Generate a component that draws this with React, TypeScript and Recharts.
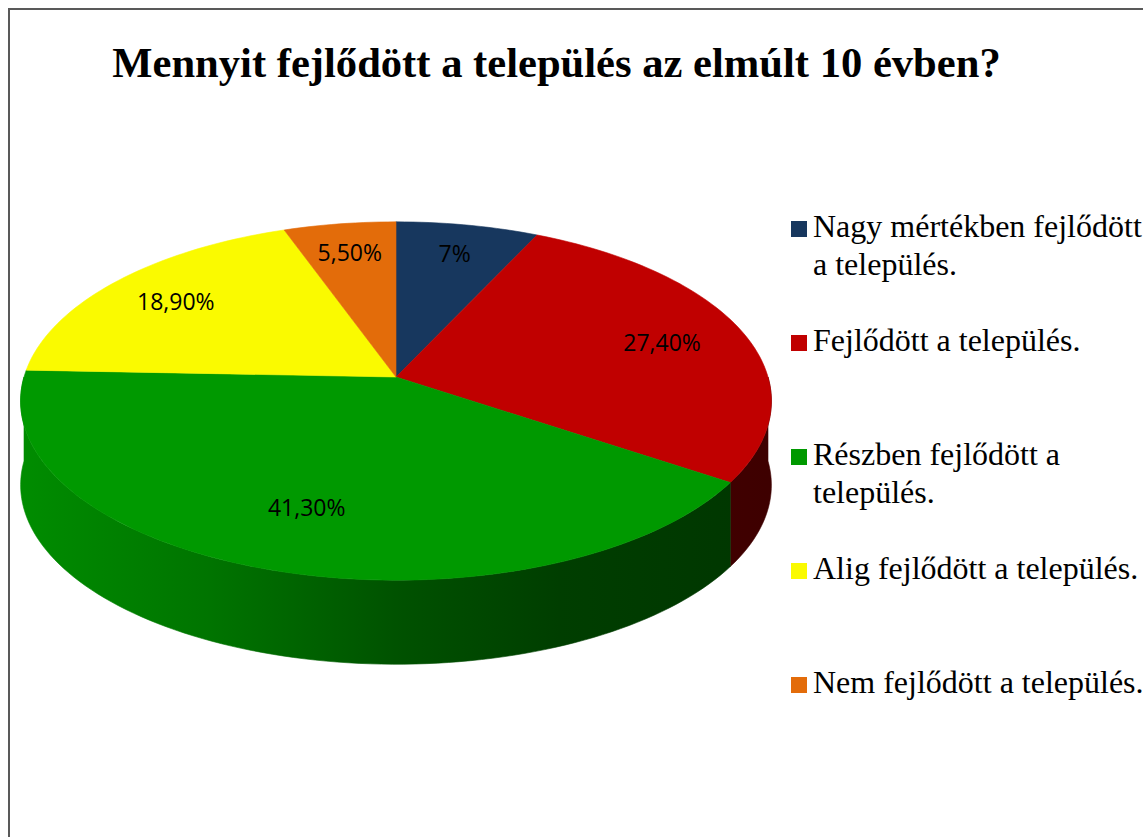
import React from "react";
import { PieChart, Pie, Cell, Legend } from "recharts";

const title = "Mennyit fejlődött a település az elmúlt 10 évben?";
const categories = [
  "Nagy mértékben fejlődött a település.",
  "Fejlődött a település.",
  "Részben fejlődött a település.",
  "Alig fejlődött a település.",
  "Nem fejlődött a település.",
];
const shares = [7, 27.4, 41.3, 18.9, 5.5];
const shareLabels = ["7%", "27,40%", "41,30%", "18,90%", "5,50%"];

const COLORS = ["#17375E", "#C00000", "#009900", "#FAFA00", "#E36C0A"];
// side wall shading, left to right
const WALL_STOPS: [number, string][][] = [
  [[0, "#1c3658"], [1, "#0a1628"]],
  [[0, "#700000"], [0.6, "#4c0000"], [1, "#3e0000"]],
  [[0, "#008c00"], [0.25, "#007400"], [0.5, "#005200"], [0.72, "#003e00"], [1, "#003600"]],
  [[0, "#b0b000"], [1, "#606000"]],
  [[0, "#a04a06"], [1, "#5a2a04"]],
];

const data = categories.map((name, i) => ({ name, value: shares[i], idx: i }));

// fake 3D: tilt, perspective and thickness relative to the radius
const TILT = 0.473;
const PERSP = 0.134;
const DEPTH = 0.226;

const project = (cx: number, cy: number, r: number, deg: number, frac = 1, persp = PERSP) => {
  const t = (deg * Math.PI) / 180;
  const u = frac * Math.cos(t);
  const v = frac * Math.sin(t);
  const w = 1 + persp * v;
  return [cx + (r * u) / w, cy - (r * TILT * v) / w];
};

const arcPoints = (cx: number, cy: number, r: number, a: number, b: number) => {
  const n = Math.max(2, Math.ceil(Math.abs(b - a) / 1.5));
  const pts: number[][] = [];
  for (let k = 0; k <= n; k++) pts.push(project(cx, cy, r, a + ((b - a) * k) / n));
  return pts;
};

const Slab = (props: any) => {
  const { cx, cy, outerRadius, startAngle, endAngle } = props;
  const idx = props.idx ?? props.payload?.idx ?? props.index ?? 0;
  const fill = COLORS[idx];
  const depth = outerRadius * DEPTH;
  const lo = Math.min(startAngle, endAngle);
  const hi = Math.max(startAngle, endAngle);

  const walls: string[] = [];
  for (const k of [-720, -360, 0, 360]) {
    const a = Math.max(lo, -180 + k);
    const b = Math.min(hi, k);
    if (b > a) {
      const top = arcPoints(cx, cy, outerRadius, a, b);
      const bottom = top.map(([x, y]) => [x, y + depth]).reverse();
      walls.push(
        "M" + top.concat(bottom).map(([x, y]) => `${x.toFixed(2)},${y.toFixed(2)}`).join("L") + "Z"
      );
    }
  }

  const rim = arcPoints(cx, cy, outerRadius, startAngle, endAngle);
  const face =
    `M${cx},${cy}L` + rim.map(([x, y]) => `${x.toFixed(2)},${y.toFixed(2)}`).join("L") + "Z";

  const gid = `wall-${idx}`;
  return (
    <g>
      <defs>
        <linearGradient id={gid} gradientUnits="userSpaceOnUse" x1={cx - outerRadius} x2={cx + outerRadius} y1={0} y2={0}>
          {WALL_STOPS[idx].map(([o, c]) => (
            <stop key={o} offset={o} stopColor={c} />
          ))}
        </linearGradient>
      </defs>
      {walls.map((d, i) => (
        <path key={i} d={d} fill={`url(#${gid})`} stroke={`url(#${gid})`} strokeWidth={0.6} />
      ))}
      <path d={face} fill={fill} stroke={fill} strokeWidth={0.6} />
    </g>
  );
};

const renderLabel = (props: any) => {
  const { cx, cy, outerRadius, midAngle, index } = props;
  const [x, y] = project(cx, cy, outerRadius, midAngle, 0.75, 0.05);
  return (
    <text
      x={x}
      y={y}
      textAnchor="middle"
      dominantBaseline="central"
      fill="#000"
      style={{ fontFamily: '"Open Sans", Lato, sans-serif', fontSize: 23 }}
    >
      {shareLabels[index]}
    </text>
  );
};

const renderLegend = () => (
  <div
    style={{
      fontFamily: '"Liberation Serif", "Times New Roman", serif',
      fontSize: 32,
      lineHeight: "38px",
      color: "#000",
    }}
  >
    {categories.map((c, i) => (
      <div key={c} style={{ display: "flex", alignItems: "flex-start", height: 114 }}>
        <span style={{ width: 16, height: 16, background: COLORS[i], marginTop: 14, flex: "none" }} />
        <span style={{ width: 340, marginLeft: 6 }}>{c}</span>
      </div>
    ))}
  </div>
);

export default function App() {
  return (
    <div
      style={{
        position: "absolute",
        left: 8,
        top: 8,
        width: 1135,
        height: 829,
        boxSizing: "border-box",
        borderLeft: "2px solid #595959",
        borderTop: "2px solid #595959",
        overflow: "hidden",
        background: "#fff",
      }}
    >
      <div
        style={{
          position: "absolute",
          left: 0,
          top: 31,
          width: 1093,
          textAlign: "center",
          fontFamily: '"Liberation Serif", "Times New Roman", serif',
          fontWeight: "bold",
          fontSize: 42.6,
          lineHeight: "43px",
          whiteSpace: "nowrap",
          zIndex: 1,
        }}
      >
        {title}
      </div>
      <PieChart width={1133} height={827} margin={{ top: 0, right: 0, bottom: 0, left: 0 }}>
        <Pie
          data={data}
          dataKey="value"
          nameKey="name"
          cx={386}
          cy={367}
          outerRadius={372}
          startAngle={90}
          endAngle={-270}
          stroke="none"
          labelLine={false}
          label={renderLabel}
          shape={Slab}
          activeShape={Slab}
          inactiveShape={Slab}
          isAnimationActive={false}
        >
          {data.map((d, i) => (
            <Cell key={d.name} fill={COLORS[i]} />
          ))}
        </Pie>
        <Legend
          layout="vertical"
          align="right"
          verticalAlign="top"
          content={renderLegend}
          wrapperStyle={{ left: 781, top: 197, right: "auto", bottom: "auto", width: 400 }}
        />
      </PieChart>
    </div>
  );
}
